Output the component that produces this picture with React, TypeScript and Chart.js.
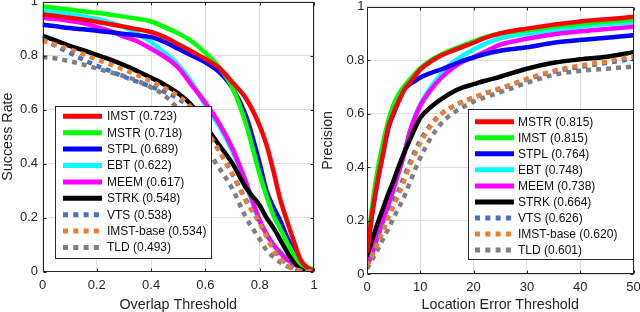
import React, { useEffect, useRef } from "react";
import { Chart, registerables } from "chart.js";

Chart.register(...registerables);

// ---------------- Data: success plot (left) ----------------
const overlapThresholds = [0, 0.05, 0.1, 0.15, 0.2, 0.25, 0.3, 0.35, 0.4, 0.45, 0.5, 0.55, 0.6, 0.65, 0.7, 0.75, 0.8, 0.825, 0.85, 0.875, 0.9, 0.925, 0.95, 0.975, 1];

const successLabels = ["IMST (0.723)", "MSTR (0.718)", "STPL (0.689)", "EBT (0.622)", "MEEM (0.617)", "STRK (0.548)", "VTS (0.538)", "IMST-base (0.534)", "TLD (0.493)"];

const succIMST = [0.952, 0.946, 0.94, 0.933, 0.925, 0.916, 0.907, 0.897, 0.887, 0.868, 0.842, 0.815, 0.787, 0.755, 0.70, 0.64, 0.54, 0.47, 0.375, 0.27, 0.19, 0.115, 0.045, 0.016, 0.002];
const succMSTR = [0.982, 0.976, 0.97, 0.964, 0.958, 0.951, 0.944, 0.936, 0.926, 0.905, 0.882, 0.852, 0.81, 0.757, 0.68, 0.545, 0.36, 0.28, 0.21, 0.16, 0.11, 0.065, 0.03, 0.015, 0.008];
const succSTPL = [0.914, 0.908, 0.902, 0.897, 0.892, 0.886, 0.88, 0.875, 0.868, 0.85, 0.825, 0.80, 0.775, 0.74, 0.68, 0.575, 0.40, 0.30, 0.24, 0.19, 0.13, 0.08, 0.035, 0.015, 0.005];
const succEBT = [0.965, 0.96, 0.953, 0.945, 0.935, 0.922, 0.905, 0.88, 0.85, 0.81, 0.765, 0.70, 0.615, 0.54, 0.445, 0.32, 0.185, 0.14, 0.10, 0.075, 0.05, 0.035, 0.022, 0.014, 0.008];
const succMEEM = [0.94, 0.935, 0.928, 0.92, 0.905, 0.89, 0.87, 0.852, 0.825, 0.795, 0.755, 0.69, 0.625, 0.55, 0.455, 0.33, 0.19, 0.14, 0.10, 0.07, 0.045, 0.03, 0.015, 0.006, 0.002];
const succSTRK = [0.873, 0.855, 0.836, 0.82, 0.802, 0.785, 0.765, 0.742, 0.718, 0.692, 0.66, 0.615, 0.54, 0.47, 0.40, 0.31, 0.245, 0.2, 0.163, 0.12, 0.075, 0.037, 0.015, 0.005, 0.0];
const succVTS = [0.86, 0.835, 0.81, 0.785, 0.762, 0.742, 0.722, 0.703, 0.685, 0.665, 0.64, 0.6, 0.53, 0.45, 0.36, 0.265, 0.18, 0.135, 0.09, 0.055, 0.03, 0.012, 0.004, 0.001, 0];
const succIMSTbase = [0.855, 0.84, 0.823, 0.805, 0.785, 0.767, 0.748, 0.727, 0.704, 0.68, 0.65, 0.605, 0.525, 0.446, 0.36, 0.26, 0.18, 0.13, 0.08, 0.05, 0.025, 0.01, 0.003, 0.001, 0];
const succTLD = [0.795, 0.789, 0.779, 0.767, 0.752, 0.738, 0.724, 0.706, 0.682, 0.652, 0.60, 0.53, 0.46, 0.385, 0.305, 0.2, 0.12, 0.08, 0.055, 0.035, 0.02, 0.01, 0.004, 0.001, 0];

// ---------------- Data: precision plot (right) ----------------
const errorThresholds = [0, 1, 2, 3, 4, 5, 6, 7, 8, 9, 10, 12, 14, 16, 18, 20, 22, 25, 30, 35, 40, 45, 50];

const precisionLabels = ["MSTR (0.815)", "IMST (0.815)", "STPL (0.764)", "EBT (0.748)", "MEEM (0.738)", "STRK (0.664)", "VTS (0.626)", "IMST-base (0.620)", "TLD (0.601)"];

const precMSTR = [0.08, 0.23, 0.35, 0.45, 0.55, 0.605, 0.65, 0.69, 0.715, 0.74, 0.765, 0.795, 0.818, 0.835, 0.85, 0.865, 0.882, 0.9, 0.918, 0.933, 0.945, 0.953, 0.962];
const precIMST = [0.10, 0.26, 0.39, 0.49, 0.575, 0.635, 0.675, 0.703, 0.727, 0.75, 0.77, 0.80, 0.822, 0.84, 0.855, 0.87, 0.885, 0.9, 0.912, 0.925, 0.936, 0.945, 0.952];
const precSTPL = [0.08, 0.23, 0.35, 0.45, 0.545, 0.60, 0.65, 0.69, 0.71, 0.722, 0.735, 0.752, 0.766, 0.782, 0.798, 0.81, 0.822, 0.835, 0.848, 0.865, 0.875, 0.884, 0.893];
const precEBT = [0.03, 0.08, 0.14, 0.2, 0.26, 0.32, 0.385, 0.45, 0.53, 0.59, 0.635, 0.70, 0.75, 0.79, 0.818, 0.84, 0.86, 0.882, 0.899, 0.913, 0.925, 0.935, 0.942];
const precMEEM = [0.03, 0.08, 0.14, 0.2, 0.26, 0.32, 0.385, 0.45, 0.53, 0.585, 0.63, 0.69, 0.735, 0.77, 0.795, 0.812, 0.83, 0.858, 0.88, 0.897, 0.908, 0.917, 0.925];
const precSTRK = [0.065, 0.13, 0.19, 0.245, 0.3, 0.35, 0.405, 0.455, 0.5, 0.545, 0.585, 0.625, 0.655, 0.68, 0.698, 0.71, 0.722, 0.738, 0.768, 0.79, 0.803, 0.813, 0.83];
const precVTS = [0.03, 0.075, 0.12, 0.17, 0.22, 0.27, 0.315, 0.365, 0.415, 0.46, 0.5, 0.56, 0.6, 0.625, 0.645, 0.66, 0.675, 0.693, 0.728, 0.757, 0.775, 0.79, 0.805];
const precIMSTbase = [0.03, 0.07, 0.115, 0.16, 0.21, 0.255, 0.3, 0.35, 0.405, 0.45, 0.49, 0.555, 0.6, 0.625, 0.645, 0.66, 0.675, 0.695, 0.73, 0.76, 0.78, 0.795, 0.815];
const precTLD = [0.02, 0.055, 0.09, 0.13, 0.17, 0.21, 0.25, 0.29, 0.34, 0.39, 0.435, 0.51, 0.565, 0.6, 0.625, 0.645, 0.66, 0.68, 0.715, 0.745, 0.76, 0.768, 0.776];

// ---------------- Styles ----------------
const FONT = '"Liberation Sans", Arial, Helvetica, sans-serif';
const AXIS_COLOR = "#262626";
const GRID_COLOR = "#dfdfdf";
// style per legend slot (same in both panels): colour, dashed, draw order (lower = on top)
const slotStyles = [
  { color: "#ff0000", dashed: false, order: 4 },
  { color: "#00ff00", dashed: false, order: 5 },
  { color: "#0000ff", dashed: false, order: 6 },
  { color: "#00ffff", dashed: false, order: 9 },
  { color: "#ff00ff", dashed: false, order: 8 },
  { color: "#000000", dashed: false, order: 7 },
  { color: "#4472c4", dashed: true, order: 2 },
  { color: "#ed7d31", dashed: true, order: 1 },
  { color: "#7f7f7f", dashed: true, order: 3 },
];

const W = 320;
const H = 312;

type LegendLayout = { x: number; y: number; w: number; h: number; firstY: number; rowH: number; lineX0: number; lineX1: number; textX: number };

type Panel = {
  xs: number[];
  labels: string[];
  values: number[][];
  xMax: number;
  xStep: number;
  xTitle: string;
  yTitle: string;
  area: { left: number; right: number; top: number; bottom: number };
  yLabelPad: number;
  yTitlePad: number;
  legend: LegendLayout;
};

const fmt = (v: number) => String(Math.round(v * 1000) / 1000);

function makeFramePlugin() {
  return {
    id: "frameBox",
    afterDatasetsDraw(chart: any) {
      const { ctx, chartArea: a, scales } = chart;
      const L = Math.round(a.left) + 0.5;
      const R = Math.round(a.right) - 0.5;
      const T = Math.round(a.top) + 0.5;
      const B = Math.round(a.bottom) - 0.5;
      ctx.save();
      ctx.strokeStyle = AXIS_COLOR;
      ctx.lineWidth = 1;
      ctx.setLineDash([]);
      ctx.beginPath();
      ctx.rect(L, T, R - L, B - T);
      ctx.stroke();
      const tl = 3;
      ctx.beginPath();
      scales.x.ticks.forEach((t: any) => {
        const px = Math.round(scales.x.getPixelForValue(t.value)) + 0.5;
        ctx.moveTo(px, B);
        ctx.lineTo(px, B - tl);
        ctx.moveTo(px, T);
        ctx.lineTo(px, T + tl);
      });
      scales.y.ticks.forEach((t: any) => {
        const py = Math.round(scales.y.getPixelForValue(t.value)) + 0.5;
        ctx.moveTo(L, py);
        ctx.lineTo(L + tl, py);
        ctx.moveTo(R, py);
        ctx.lineTo(R - tl, py);
      });
      ctx.stroke();
      ctx.restore();
    },
  };
}

function makeLegendPlugin(lg: LegendLayout) {
  return {
    id: "boxLegend",
    afterDraw(chart: any) {
      const { ctx } = chart;
      ctx.save();
      ctx.fillStyle = "#ffffff";
      ctx.fillRect(lg.x, lg.y, lg.w, lg.h);
      ctx.strokeStyle = AXIS_COLOR;
      ctx.lineWidth = 1;
      ctx.strokeRect(lg.x + 0.5, lg.y + 0.5, lg.w, lg.h);
      const sets = chart.data.datasets;
      sets.forEach((ds: any, i: number) => {
        const y = lg.firstY + i * lg.rowH;
        ctx.beginPath();
        ctx.setLineDash(ds.borderDash && ds.borderDash.length ? [5, 5.3] : []);
        ctx.lineCap = "butt";
        ctx.lineWidth = 5;
        ctx.strokeStyle = ds.borderColor;
        ctx.moveTo(lg.lineX0, y);
        ctx.lineTo(lg.lineX1, y);
        ctx.stroke();
        ctx.setLineDash([]);
        ctx.fillStyle = "#111111";
        ctx.font = `12px ${FONT}`;
        ctx.textBaseline = "middle";
        ctx.textAlign = "left";
        ctx.fillText(ds.label, lg.textX, y + 0.5);
      });
      ctx.restore();
    },
  };
}

function buildConfig(p: Panel): any {
  const datasets = p.labels.map((label, i) => {
    const st = slotStyles[i];
    return {
      label,
      data: p.xs.map((x, k) => ({ x, y: p.values[i][k] })),
      borderColor: st.color,
      backgroundColor: st.color,
      borderWidth: 4.5,
      borderDash: st.dashed ? [5, 5] : [],
      borderCapStyle: "butt",
      pointRadius: 0,
      fill: false,
      cubicInterpolationMode: "monotone",
      order: st.order,
    };
  });
  const tickFont = { family: FONT, size: 13 };
  const titleFont = { family: FONT, size: 14.3, lineHeight: 1 };
  return {
    type: "line",
    data: { datasets },
    options: {
      animation: false,
      responsive: false,
      events: [],
      layout: { padding: { top: p.area.top, right: W - p.area.right, left: 0, bottom: 0 } },
      plugins: { legend: { display: false }, tooltip: { enabled: false } },
      scales: {
        x: {
          type: "linear",
          min: 0,
          max: p.xMax,
          ticks: { stepSize: p.xStep, font: tickFont, color: AXIS_COLOR, padding: 5.5, maxRotation: 0, autoSkip: false, callback: (v: number) => fmt(v) },
          grid: { color: GRID_COLOR, drawTicks: false, lineWidth: 1 },
          border: { display: false },
          title: { display: true, text: p.xTitle, font: titleFont, color: AXIS_COLOR, padding: { top: 0, bottom: 0 } },
          afterFit: (s: any) => {
            s.height = H - p.area.bottom;
            s.paddingLeft = 0;
            s.paddingRight = 0;
          },
        },
        y: {
          type: "linear",
          min: 0,
          max: 1,
          ticks: { stepSize: 0.2, font: tickFont, color: AXIS_COLOR, padding: p.yLabelPad, autoSkip: false, callback: (v: number) => fmt(v) },
          grid: { color: GRID_COLOR, drawTicks: false, lineWidth: 1 },
          border: { display: false },
          title: { display: true, text: p.yTitle, font: titleFont, color: AXIS_COLOR, padding: { top: p.yTitlePad, bottom: 0 } },
          afterFit: (s: any) => {
            s.width = p.area.left;
            s.paddingTop = 0;
            s.paddingBottom = 0;
          },
        },
      },
    },
    plugins: [makeFramePlugin(), makeLegendPlugin(p.legend)],
  };
}

const successPanel: Panel = {
  xs: overlapThresholds,
  labels: successLabels,
  values: [succIMST, succMSTR, succSTPL, succEBT, succMEEM, succSTRK, succVTS, succIMSTbase, succTLD],
  xMax: 1,
  xStep: 0.2,
  xTitle: "Overlap Threshold",
  yTitle: "Success Rate",
  area: { left: 42.5, right: 314, top: 1.5, bottom: 271.7 },
  yLabelPad: 4.5,
  yTitlePad: 0.5,
  legend: { x: 55, y: 106, w: 156, h: 152, firstY: 116.3, rowH: 16.4, lineX0: 63, lineX1: 102, textX: 107 },
};

const precisionPanel: Panel = {
  xs: errorThresholds,
  labels: precisionLabels,
  values: [precMSTR, precIMST, precSTPL, precEBT, precMEEM, precSTRK, precVTS, precIMSTbase, precTLD],
  xMax: 50,
  xStep: 10,
  xTitle: "Location Error Threshold",
  yTitle: "Precision",
  area: { left: 47, right: 313.5, top: 6.7, bottom: 274 },
  yLabelPad: 2.5,
  yTitlePad: 1,
  legend: { x: 148, y: 109, w: 165, h: 150, firstY: 121.7, rowH: 16.05, lineX0: 155, lineX1: 194, textX: 198 },
};

export default function App() {
  const leftRef = useRef<HTMLCanvasElement | null>(null);
  const rightRef = useRef<HTMLCanvasElement | null>(null);

  useEffect(() => {
    const charts: Chart[] = [];
    if (leftRef.current) charts.push(new Chart(leftRef.current, buildConfig(successPanel)));
    if (rightRef.current) charts.push(new Chart(rightRef.current, buildConfig(precisionPanel)));
    return () => charts.forEach((c) => c.destroy());
  }, []);

  return (
    <div style={{ position: "fixed", left: 0, top: 0, width: 640, height: 312, display: "flex", background: "#ffffff" }}>
      <canvas ref={leftRef} width={W} height={H} style={{ display: "block", width: W, height: H }} />
      <canvas ref={rightRef} width={W} height={H} style={{ display: "block", width: W, height: H }} />
    </div>
  );
}
